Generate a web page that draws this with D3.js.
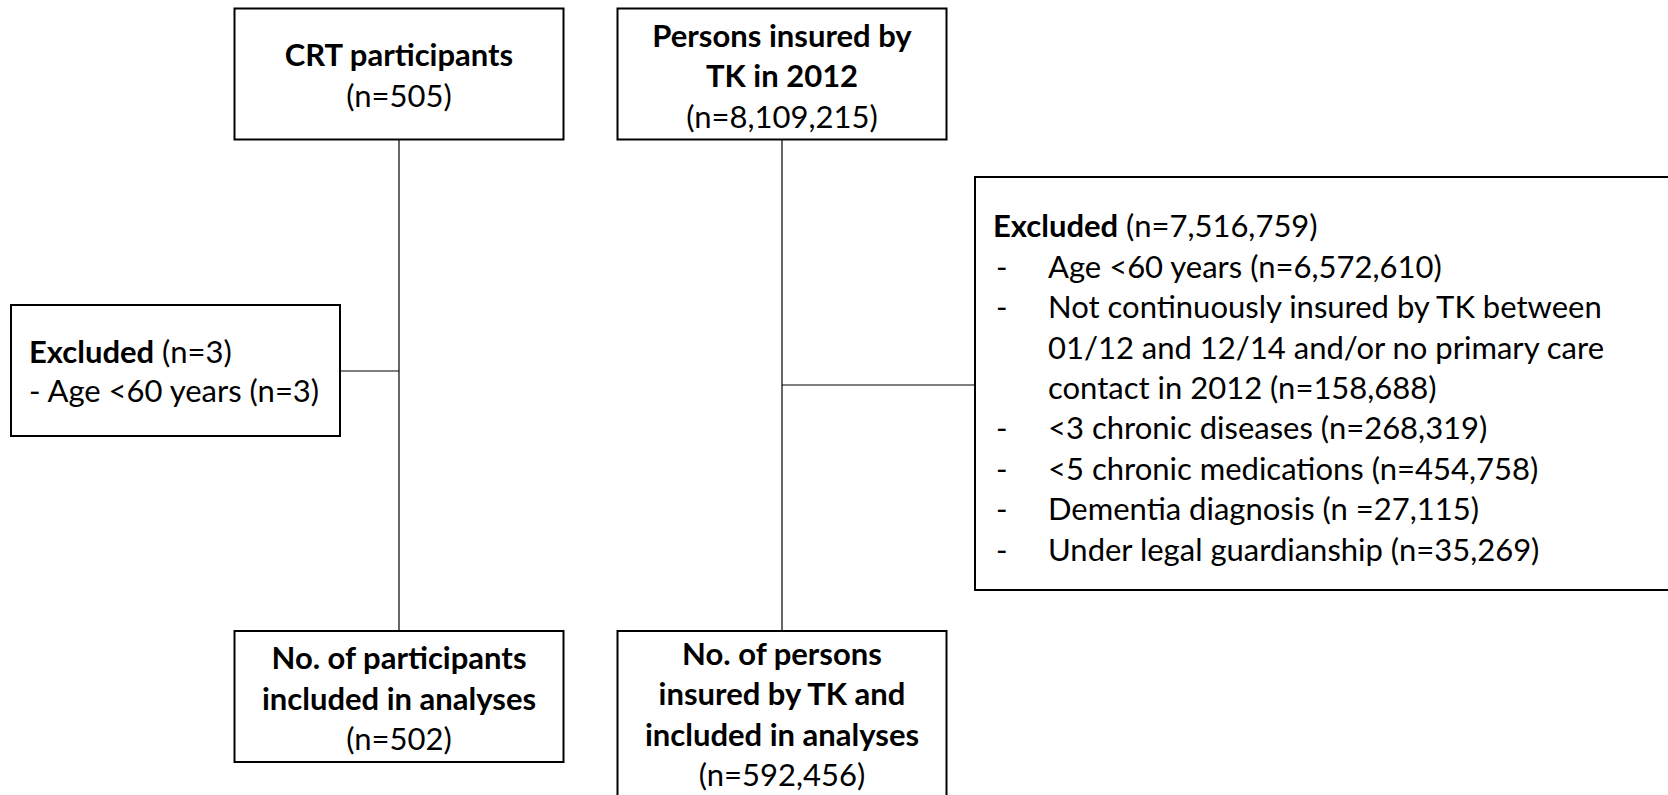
<!DOCTYPE html>
<html>
<head>
<meta charset="utf-8">
<script src="https://cdn.jsdelivr.net/npm/d3@7"></script>
<style>
  body { margin: 0; background: #fff; }
  svg { display: block; font-family: Lato, 'Open Sans', sans-serif; }
</style>
</head>
<body>
<svg id="chart"></svg>
<script>
// flow chart content
const sourceTitles = [['CRT participants'], ['Persons insured by', 'TK in 2012']];
const sourceCounts = [505, 8109215];
const analysedTitles = [['No. of participants', 'included in analyses'], ['No. of persons', 'insured by TK and', 'included in analyses']];
const analysedCounts = [502, 592456];
const excludedCounts = [3, 7516759];
const crtReasons = ['- Age <60 years (n=3)'];
const tkReasons = [
  ['Age <60 years (n=6,572,610)'],
  ['Not continuously insured by TK between', '01/12 and 12/14 and/or no primary care', 'contact in 2012 (n=158,688)'],
  ['<3 chronic diseases (n=268,319)'],
  ['<5 chronic medications (n=454,758)'],
  ['Dementia diagnosis (n =27,115)'],
  ['Under legal guardianship (n=35,269)']
];

const W = 1668, H = 795;
const fs = 31, lh = 40.4;
const fmt = d3.format(',');

const svg = d3.select('#chart').attr('width', W).attr('height', H);

const colX = [399, 782];
const boxW = 329;
const topY = 8.5, topH = 131;
const botY = 631, botH = [131, 180];

// connectors
colX.forEach((cx, i) => {
  svg.append('line')
    .attr('x1', cx).attr('x2', cx)
    .attr('y1', topY + topH).attr('y2', botY)
    .attr('stroke', '#000').attr('stroke-width', 1.2);
});
svg.append('line')
  .attr('x1', 340).attr('x2', colX[0]).attr('y1', 371).attr('y2', 371)
  .attr('stroke', '#000').attr('stroke-width', 1.2);
svg.append('line')
  .attr('x1', colX[1]).attr('x2', 975).attr('y1', 385).attr('y2', 385)
  .attr('stroke', '#000').attr('stroke-width', 1.2);

function box(x, y, w, h) {
  svg.append('rect')
    .attr('x', x).attr('y', y).attr('width', w).attr('height', h)
    .attr('fill', '#fff').attr('stroke', '#000').attr('stroke-width', 2);
}

function centredText(cx, firstY, boldLines, count) {
  const t = svg.append('text').attr('text-anchor', 'middle').attr('font-size', fs).attr('fill', '#000');
  boldLines.forEach((l, i) => {
    t.append('tspan').attr('x', cx).attr('y', firstY + i * lh).attr('dy', '0.35em')
      .attr('font-weight', 'bold').text(l);
  });
  t.append('tspan').attr('x', cx).attr('y', firstY + boldLines.length * lh).attr('dy', '0.35em')
    .text(`(n=${fmt(count)})`);
}

// source boxes
const topFirst = [55.3, 36.2];
sourceTitles.forEach((lines, i) => {
  box(colX[i] - boxW / 2, topY, boxW, topH);
  centredText(colX[i], topFirst[i], lines, sourceCounts[i]);
});

// analysed boxes
const botFirst = [658.5, 654.2];
analysedTitles.forEach((lines, i) => {
  box(colX[i] - boxW / 2, botY, boxW, botH[i]);
  centredText(colX[i], botFirst[i], lines, analysedCounts[i]);
});

// left excluded box
box(11, 305, 329, 131);
const lt = svg.append('text').attr('font-size', fs).attr('fill', '#000');
const l1 = lt.append('tspan').attr('x', 29).attr('y', 352).attr('dy', '0.35em');
l1.append('tspan').attr('font-weight', 'bold').text('Excluded');
l1.append('tspan').text(` (n=${fmt(excludedCounts[0])})`);
crtReasons.forEach((r, i) => {
  lt.append('tspan').attr('x', 29).attr('y', 352 + (i + 1) * 39.5).attr('dy', '0.35em').text(r);
});

// right excluded box
box(975, 177, 760, 413);
const rt = svg.append('g').attr('font-size', fs).attr('fill', '#000');
const head = rt.append('text').attr('x', 993).attr('y', 226.6).attr('dy', '0.35em');
head.append('tspan').attr('font-weight', 'bold').text('Excluded');
head.append('tspan').text(` (n=${fmt(excludedCounts[1])})`);
let row = 1;
tkReasons.forEach(lines => {
  rt.append('text').attr('x', 996).attr('y', 226.6 + row * lh).attr('dy', '0.35em').text('-');
  lines.forEach(l => {
    rt.append('text').attr('x', 1048).attr('y', 226.6 + row * lh).attr('dy', '0.35em').text(l);
    row++;
  });
});
</script>
</body>
</html>
